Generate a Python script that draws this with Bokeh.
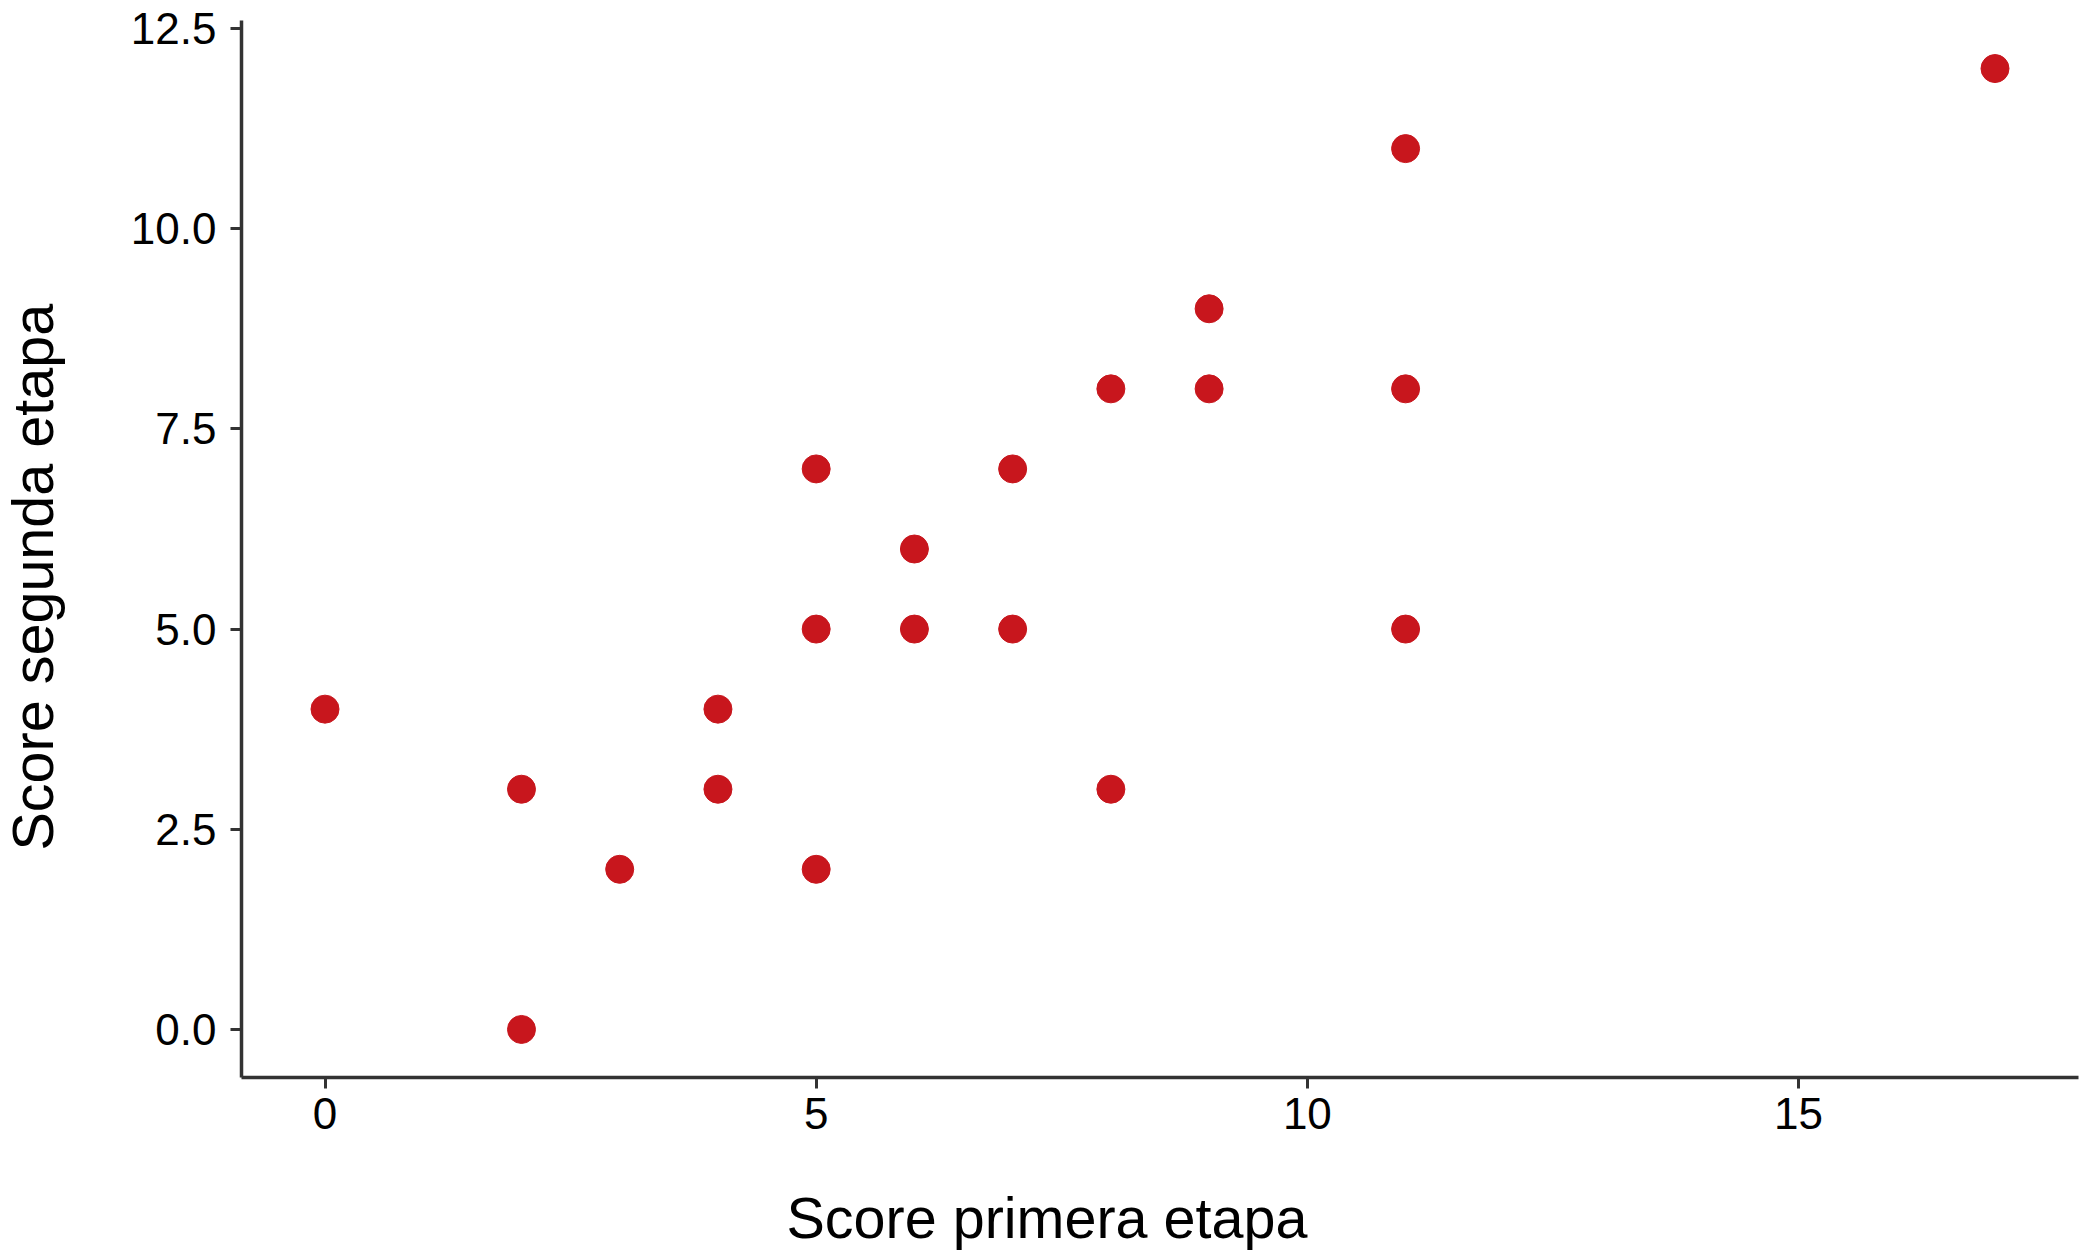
from bokeh.plotting import figure
from bokeh.models import Range1d, FixedTicker, Title, ColumnDataSource, LinearAxis
from bokeh.embed import file_html
from bokeh.resources import INLINE

# data
score_primera = [0, 2, 2, 3, 4, 4, 5, 5, 5, 6, 6, 7, 7, 8, 8, 9, 9, 11, 11, 11, 17]
score_segunda = [4, 3, 0, 2, 4, 3, 7, 5, 2, 6, 5, 7, 5, 8, 3, 9, 8, 11, 8, 5, 12]

x_ticks = [0, 5, 10, 15]
x_tick_labels = ["0", "5", "10", "15"]
y_ticks = [0, 2.5, 5, 7.5, 10, 12.5]
y_tick_labels = ["0.0", "2.5", "5.0", "7.5", "10.0", "12.5"]

x_title = "Score primera etapa"
y_title = "Score segunda etapa"

FONT = "Liberation Sans"
AXIS_COLOR = "#333333"
POINT_COLOR = "#c8161d"

p = figure(width=2091, height=1256, output_backend="svg", toolbar_location=None,
           x_range=Range1d(-0.85, 17.85), y_range=Range1d(-0.6, 12.6),
           min_border_left=241, min_border_right=13, min_border_top=20, min_border_bottom=179)

p.outline_line_color = None
p.xgrid.visible = False
p.ygrid.visible = False
p.background_fill_color = "white"
p.border_fill_color = "white"

src = ColumnDataSource(dict(x=score_primera, y=score_segunda))
p.scatter("x", "y", source=src, size=28, fill_color=POINT_COLOR, line_color=POINT_COLOR, line_width=1)

for ax in (p.xaxis[0], p.yaxis[0]):
    ax.axis_line_color = AXIS_COLOR
    ax.axis_line_width = 3.5
    ax.major_tick_line_color = AXIS_COLOR
    ax.major_tick_line_width = 3
    ax.major_tick_out = 11
    ax.major_tick_in = 0
    ax.minor_tick_line_color = None
    ax.major_label_text_font = FONT
    ax.major_label_text_font_size = "44px"
    ax.major_label_text_color = "black"

p.xaxis[0].ticker = FixedTicker(ticks=x_ticks)
p.xaxis[0].major_label_overrides = {t: l for t, l in zip(x_ticks, x_tick_labels)}
p.xaxis[0].major_label_standoff = 9
p.yaxis[0].ticker = FixedTicker(ticks=y_ticks)
p.yaxis[0].major_label_standoff = 14
p.yaxis[0].major_label_overrides = {t: l for t, l in zip(y_ticks, y_tick_labels)}


def spacer(size, tick):
    # an axis drawn in white (invisible) used only to reserve room
    # between the tick labels and the axis title
    return LinearAxis(ticker=FixedTicker(ticks=[tick]), axis_line_color=None,
                      major_tick_line_color="white", major_tick_line_width=1,
                      minor_tick_line_color=None,
                      major_label_text_color=None, major_label_text_font_size="1px",
                      major_tick_out=size, major_tick_in=0, major_label_standoff=0)


p.add_layout(spacer(54, x_ticks[0]), "below")
p.add_layout(spacer(61, y_ticks[0]), "left")

xt = Title(text=x_title, align="left", offset=545, standoff=0, vertical_align="top",
           text_font=FONT, text_font_size="57.5px", text_font_style="normal", text_color="black")
p.add_layout(xt, "below")
yt = Title(text=y_title, align="left", offset=227, standoff=0, vertical_align="top",
           text_font=FONT, text_font_size="57.5px", text_font_style="normal", text_color="black")
p.add_layout(yt, "left")

open("out.html", "w").write(file_html(p, INLINE))
